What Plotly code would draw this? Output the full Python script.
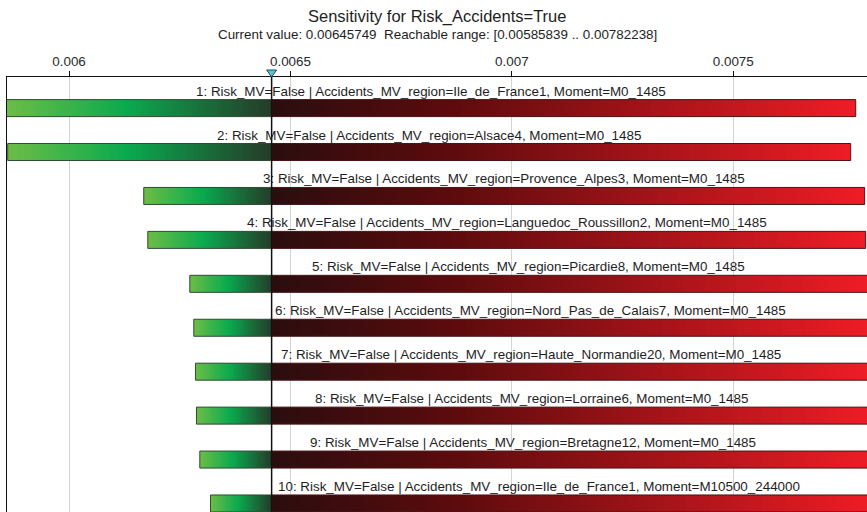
import numpy as np
import plotly.graph_objects as go

# ---------------- data ----------------
title_text = "Sensitivity for Risk_Accidents=True"
current_value = 0.00645749
reachable_min = 0.00585839
reachable_max = 0.00782238

labels = [
    "1: Risk_MV=False | Accidents_MV_region=Ile_de_France1, Moment=M0_1485",
    "2: Risk_MV=False | Accidents_MV_region=Alsace4, Moment=M0_1485",
    "3: Risk_MV=False | Accidents_MV_region=Provence_Alpes3, Moment=M0_1485",
    "4: Risk_MV=False | Accidents_MV_region=Languedoc_Roussillon2, Moment=M0_1485",
    "5: Risk_MV=False | Accidents_MV_region=Picardie8, Moment=M0_1485",
    "6: Risk_MV=False | Accidents_MV_region=Nord_Pas_de_Calais7, Moment=M0_1485",
    "7: Risk_MV=False | Accidents_MV_region=Haute_Normandie20, Moment=M0_1485",
    "8: Risk_MV=False | Accidents_MV_region=Lorraine6, Moment=M0_1485",
    "9: Risk_MV=False | Accidents_MV_region=Bretagne12, Moment=M0_1485",
    "10: Risk_MV=False | Accidents_MV_region=Ile_de_France1, Moment=M10500_244000",
]
low_values = [0.00585839, 0.0058615, 0.0061687, 0.0061778, 0.0062727,
              0.0062817, 0.0062855, 0.0062878, 0.0062953, 0.0063194]
high_values = [0.0077765, 0.0077652, 0.0077967, 0.0077990, 0.0078100,
               0.0078150, 0.0078120, 0.0078180, 0.0078200, 0.0078224]
tick_values = [0.006, 0.0065, 0.007, 0.0075]
tick_labels = ["0.006", "0.0065", "0.007", "0.0075"]

# ---------------- layout constants ----------------
X_RANGE = [0.0058599, 0.0078020]
Y_RANGE = [10.194, 0.292]          # reversed: first bar on top
BAR_H = 0.387
N_STEPS = 80
FONT = "Liberation Sans, Arial, sans-serif"
TXT = "#1e1e1e"

green_scale = [[0.0, "#6bbd46"], [0.45, "#0aaa4f"], [1.0, "#253c29"]]
red_scale = [[0.0, "#2c0d0e"], [0.3, "#5c0b0d"], [1.0, "#ee1c25"]]

fig = go.Figure()
idx = list(range(1, len(labels) + 1))

# gradient fills
for i, lo, hi in zip(idx, low_values, high_values):
    ys = [i - BAR_H / 2, i + BAR_H / 2]
    for a, b, cs in ((lo, current_value, green_scale), (current_value, hi, red_scale)):
        fig.add_trace(go.Heatmap(
            x=np.linspace(a, b, N_STEPS + 1), y=ys,
            z=[np.linspace(0, 1, N_STEPS)], zmin=0, zmax=1,
            colorscale=cs, showscale=False, hoverinfo="skip",
        ))

# bar outlines
fig.add_trace(go.Bar(
    y=idx, x=[current_value - lo for lo in low_values], base=low_values,
    orientation="h", width=BAR_H, marker=dict(color="rgba(0,0,0,0)",
    line=dict(color="#2f4a33", width=1)), hoverinfo="skip", showlegend=False))
fig.add_trace(go.Bar(
    y=idx, x=[hi - current_value for hi in high_values], base=[current_value] * len(idx),
    orientation="h", width=BAR_H, marker=dict(color="rgba(0,0,0,0)",
    line=dict(color="#4a1416", width=1)), hoverinfo="skip", showlegend=False))

# current value line
fig.add_shape(type="line", x0=current_value, x1=current_value, xref="x",
              y0=0, y1=1, yref="paper", layer="above",
              line=dict(color="#111111", width=1.5))
# current value triangle marker on the top axis
fig.add_shape(type="path", xref="x", xsizemode="pixel", xanchor=current_value,
              yref="paper", ysizemode="pixel", yanchor=1,
              path="M-5,7 L5,7 L0,0 Z", layer="above",
              fillcolor="#5cc3d6", line=dict(color="#1e4f5a", width=1))

# labels centred over visible part of each bar
for i, lo, hi, txt in zip(idx, low_values, high_values, labels):
    xc = (max(lo, X_RANGE[0]) + min(hi, X_RANGE[1])) / 2
    fig.add_annotation(x=xc, y=i - BAR_H / 2, text=txt, showarrow=False,
                       xanchor="center", yanchor="bottom", borderpad=0, yshift=0,
                       font=dict(family=FONT, size=13.4, color=TXT))

fig.add_annotation(x=0.5, y=1, xref="paper", yref="paper", yanchor="middle",
                   yshift=61, text=title_text, showarrow=False,
                   font=dict(family=FONT, size=16.5, color=TXT))
fig.add_annotation(x=0.5, y=1, xref="paper", yref="paper", yanchor="middle",
                   yshift=43,
                   text=f"Current value: {current_value}\u00a0\u00a0Reachable range: [{reachable_min} .. {reachable_max}]",
                   showarrow=False, font=dict(family=FONT, size=13.4, color=TXT))

fig.update_layout(
    width=867, height=512, margin=dict(l=7, r=0, t=77, b=0),
    paper_bgcolor="white", plot_bgcolor="white", barmode="overlay",
    showlegend=False, font=dict(family=FONT, size=13, color="#222"),
    xaxis=dict(range=X_RANGE, side="top", tickvals=tick_values, ticktext=tick_labels,
               showgrid=True, gridcolor="#d4d4d4", gridwidth=1, zeroline=False,
               showline=True, linecolor="#111", linewidth=1,
               ticks="outside", ticklen=5, tickcolor="#111",
               tickfont=dict(family=FONT, size=13.4, color="#2a2a2a")),
    yaxis=dict(range=Y_RANGE, showticklabels=False, showgrid=False, zeroline=False,
               showline=True, linecolor="#111", linewidth=1, ticks=""),
)

fig.write_html("out.html", config={"displayModeBar": False},
               post_script="document.body.style.margin='0';document.body.style.overflow='hidden';")
